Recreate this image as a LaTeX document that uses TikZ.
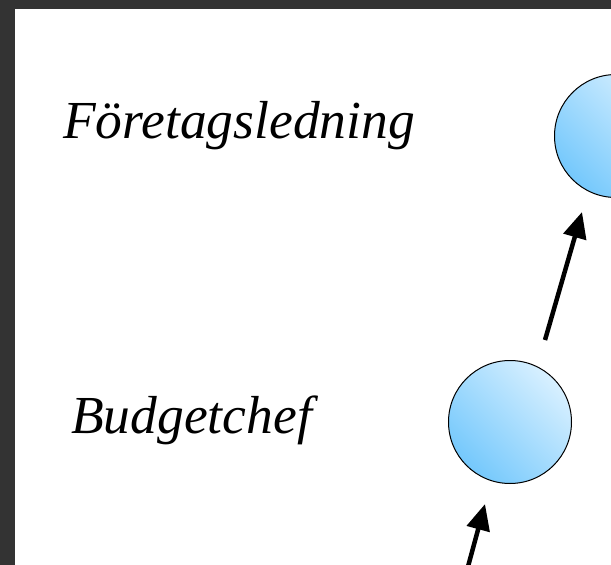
\documentclass[tikz,border=0pt]{standalone}
\usepackage{fontspec}
\setmainfont{Liberation Serif}
\usetikzlibrary{arrows.meta}
\definecolor{frame}{HTML}{333333}
\definecolor{balldark}{HTML}{74C8FC}
\definecolor{balllight}{HTML}{D8F0FF}
\begin{document}
\begin{tikzpicture}[x=1pt,y=-1pt,
    level/.style={anchor=base west,inner sep=0pt,font=\fontsize{53.5}{60}\selectfont\itshape},
    ball/.style={circle,draw=black,line width=1pt,minimum size=123pt,inner sep=0pt,
      shading=axis,left color=balllight,right color=balldark,shading angle=-45},
    up/.style={-{Triangle[length=26pt,width=23pt]},line width=4.5pt}]
  \useasboundingbox (0,0) rectangle (611,565);
  \clip (0,0) rectangle (611,565);
  \fill[frame] (0,0) rectangle (611,565);
  \fill[white] (15,9) rectangle (611,565);

  \node[level](top) at (63,138) {Företagsledning};
  \node[level](mid) at (71,433) {Budgetchef};

  \node[ball](ledning) at (616,136) {};
  \node[ball](chef) at (510,422) {};

  \coordinate (a1) at (545,340);
  \coordinate (b1) at (582,212);
  \coordinate (a2) at (463,585);
  \coordinate (b2) at (485,504);
  \draw[up] (a1) -- (b1);
  \draw[up] (a2) -- (b2);
\end{tikzpicture}
\end{document}
